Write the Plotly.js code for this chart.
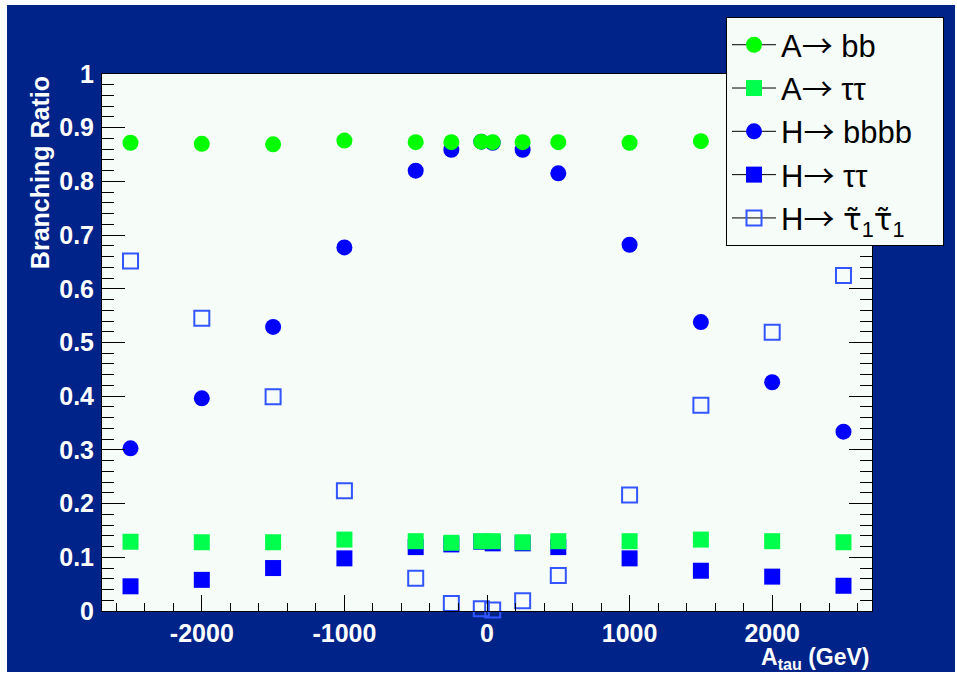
<!DOCTYPE html>
<html>
<head>
<meta charset="utf-8">
<script src="https://cdn.plot.ly/plotly-3.0.1.min.js"></script>
<style>
  html, body { margin: 0; padding: 0; background: #ffffff; }
  #chart { position: absolute; left: 7px; top: 5px; width: 948px; height: 667px; }
</style>
</head>
<body>
<div id="chart"></div>
<script>
// Trilinear coupling scan: branching ratios versus A_tau
const aTau = [-2500, -2000, -1500, -1000, -500, -250, -40, 40, 250, 500, 1000, 1500, 2000, 2500];

const brA_bb     = [0.872, 0.870, 0.869, 0.876, 0.873, 0.873, 0.874, 0.873, 0.873, 0.873, 0.872, 0.875, 0.872, 0.872];
const brA_tautau = [0.129, 0.128, 0.128, 0.133, 0.130, 0.127, 0.130, 0.130, 0.128, 0.130, 0.130, 0.133, 0.130, 0.128];
const brH_bbbb   = [0.303, 0.396, 0.529, 0.677, 0.820, 0.859, 0.874, 0.872, 0.859, 0.815, 0.682, 0.538, 0.426, 0.334];
const brH_tautau = [0.046, 0.058, 0.080, 0.098, 0.119, 0.124, 0.129, 0.126, 0.126, 0.119, 0.098, 0.075, 0.064, 0.047];
const brH_stau   = [0.652, 0.545, 0.399, 0.224, 0.061, 0.014, 0.004, 0.002, 0.019, 0.066, 0.216, 0.383, 0.519, 0.625];

// legend labels: thin arrow, stau symbols with subscript 1
const arrow = '<span style="font-family:\'Noto Sans CJK JP\';font-size:31px">\u2192</span>';
const stau = '<span style="font-family:\'DejaVu Sans\'">\u03c4\u0303</span>';
const seriesNames = [
  'A' + arrow + ' bb',
  'A' + arrow + ' \u03c4\u03c4',
  'H' + arrow + ' bbbb\u00a0\u00a0\u00a0',
  'H' + arrow + ' \u03c4\u03c4',
  'H' + arrow + ' ' + stau + '<sub>1</sub>' + stau + '<sub>1</sub>'
];

const xTickVals   = [-2000, -1000, 0, 1000, 2000];
const xTickLabels = ['-2000', '-1000', '0', '1000', '2000'];

const green  = '#00ff00';
const green2 = '#00ff4c';
const blue   = '#0000ff';
const blue2  = '#3355ff';

const markerStyles = [
  {symbol: 'circle', size: 16, color: green},
  {symbol: 'square', size: 16, color: green2},
  {symbol: 'circle', size: 16, color: blue},
  {symbol: 'square', size: 16, color: blue},
  {symbol: 'square-open', size: 15, color: blue2, line: {color: blue2, width: 2}}
];
const seriesValues = [brA_bb, brA_tautau, brH_bbbb, brH_tautau, brH_stau];

// drawing order: H decays first, A decays on top
const drawOrder = [2, 3, 4, 0, 1];
const traces = [];
drawOrder.forEach(i => {
  traces.push({
    type: 'scatter', mode: 'markers', x: aTau, y: seriesValues[i],
    marker: markerStyles[i], showlegend: false, cliponaxis: false, hoverinfo: 'skip'
  });
});
// legend entries (marker with a line through it)
[0, 1, 2, 3, 4].forEach(i => {
  traces.push({
    type: 'scatter', mode: 'lines+markers', x: [null], y: [null], name: seriesNames[i],
    marker: markerStyles[i], line: {color: '#000000', width: 1}, showlegend: true
  });
});

const frameBg = '#f6fcf8';
const pageBg = '#00238a';
const labelFont = {family: 'Liberation Sans, Arial, sans-serif', size: 25, color: '#ffffff', weight: 'bold'};

const layout = {
  width: 948, height: 667,
  margin: {l: 95, r: 83, t: 69, b: 60.5, autoexpand: false},
  paper_bgcolor: pageBg,
  plot_bgcolor: frameBg,
  showlegend: true,
  xaxis: {
    range: [-2700, 2700],
    tickmode: 'array', tickvals: xTickVals, ticktext: xTickLabels,
    ticks: 'inside', ticklen: 16, tickcolor: '#000000', tickwidth: 1,
    minor: {ticks: 'inside', ticklen: 8, tickcolor: '#000000', dtick: 200, tick0: 0, showgrid: false},
    showgrid: false, zeroline: false,
    showline: true, linecolor: '#000000', linewidth: 1, mirror: true,
    tickfont: labelFont, ticklabelstandoff: 0
  },
  yaxis: {
    range: [0, 1],
    dtick: 0.1, tick0: 0,
    ticks: 'inside', ticklen: 23, tickcolor: '#000000', tickwidth: 1,
    minor: {ticks: 'inside', ticklen: 12, tickcolor: '#000000', dtick: 0.02, showgrid: false},
    showgrid: false, zeroline: false,
    showline: true, linecolor: '#000000', linewidth: 1, mirror: 'allticks',
    tickfont: labelFont, ticklabelstandoff: 2
  },
  legend: {
    x: 0.8104, y: 1.106, xanchor: 'left', yanchor: 'top',
    bgcolor: frameBg, bordercolor: '#000000', borderwidth: 1,
    font: {family: 'Liberation Sans, Arial, sans-serif', size: 31, color: '#000000'},
    itemwidth: 44, tracegroupgap: 0
  },
  annotations: [
    {
      text: 'Branching Ratio', textangle: -90, showarrow: false,
      xref: 'paper', yref: 'paper', x: -0.081, y: 1.0, xanchor: 'center', yanchor: 'top',
      font: {family: 'Liberation Sans, Arial, sans-serif', size: 25, color: '#ffffff', weight: 'bold'}
    },
    {
      text: 'A<sub>tau</sub> (GeV)', showarrow: false,
      xref: 'paper', yref: 'paper', x: 1.0, y: -0.088, xanchor: 'right', yanchor: 'middle',
      font: {family: 'Liberation Sans, Arial, sans-serif', size: 23, color: '#ffffff', weight: 'bold'}
    }
  ]
};

Plotly.newPlot('chart', traces, layout, {staticPlot: true, displayModeBar: false});
</script>
</body>
</html>
